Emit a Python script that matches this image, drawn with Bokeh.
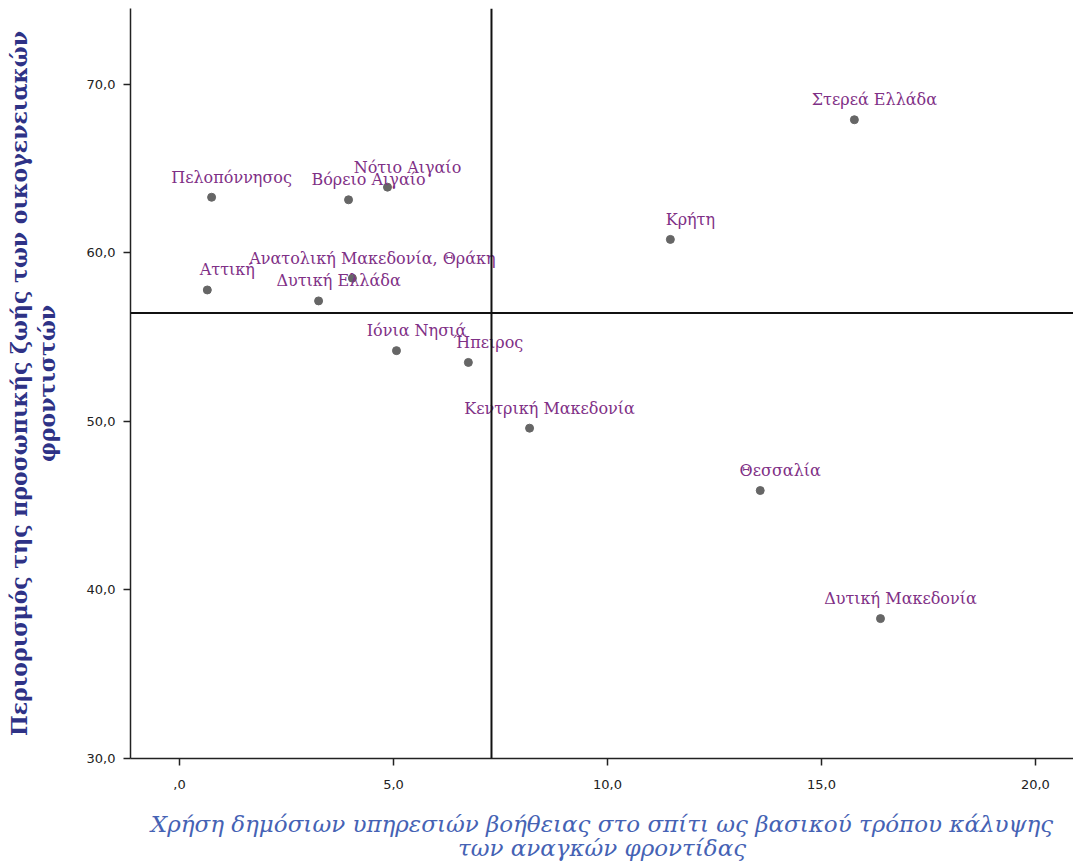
from bokeh.plotting import figure
from bokeh.models import ColumnDataSource, Span, Range1d, FixedTicker, CustomJSTickFormatter
from bokeh.core.properties import value
from bokeh.embed import file_html
from bokeh.resources import INLINE

regions = ["Αττική", "Πελοπόννησος", "Βόρειο Αιγαίο", "Νότιο Αιγαίο",
           "Ανατολική Μακεδονία, Θράκη", "Δυτική Ελλάδα", "Ιόνια Νησιά", "Ήπειρος",
           "Κεντρική Μακεδονία", "Κρήτη", "Στερεά Ελλάδα", "Θεσσαλία", "Δυτική Μακεδονία"]
public_help = [0.65, 0.75, 3.95, 4.86, 4.04, 3.25, 5.07, 6.75, 8.18, 11.47, 15.77, 13.57, 16.38]
restriction = [57.8, 63.3, 63.15, 63.9, 58.5, 57.15, 54.2, 53.5, 49.6, 60.8, 67.9, 45.9, 38.3]
x_ref = 7.29
y_ref = 56.44
x_ticks = [0, 5, 10, 15, 20]
y_ticks = [30, 40, 50, 60, 70]

x_title = "Χρήση δημόσιων υπηρεσιών βοήθειας στο σπίτι ως βασικού τρόπου κάλυψης\nτων αναγκών φροντίδας"
y_title = "Περιορισμός της προσωπικής ζωής των οικογενειακών\nφροντιστών"

src = ColumnDataSource(dict(x=public_help, y=restriction, name=regions))

p = figure(frame_width=943, frame_height=750, output_backend="svg", toolbar_location=None,
           x_range=Range1d(-1.145, 20.89), y_range=Range1d(30, 74.5),
           min_border_left=130, min_border_right=0, min_border_top=8, min_border_bottom=20)
p.outline_line_color = None
p.grid.visible = False

fmt = CustomJSTickFormatter(code="""
if (tick == 0) { return ',0'; }
return tick.toFixed(1).replace('.', ',');
""")
for ax, ticks in ((p.xaxis, x_ticks), (p.yaxis, y_ticks)):
    ax.ticker = FixedTicker(ticks=ticks)
    ax.formatter = fmt
    ax.minor_tick_line_color = None
    ax.major_tick_in = 0
    ax.major_tick_out = 7
    ax.major_tick_line_width = 1.5
    ax.axis_line_width = 1.5
    ax.axis_line_color = "#222222"
    ax.major_tick_line_color = "#222222"
    ax.major_label_text_font = "DejaVu Sans"
    ax.major_label_text_font_size = "13px"
    ax.major_label_text_color = "#222222"

p.xaxis.axis_label = x_title
p.xaxis.axis_label_text_font = "DejaVu Serif"
p.xaxis.axis_label_text_font_style = "italic"
p.xaxis.axis_label_text_font_size = "23px"
p.xaxis.axis_label_text_line_height = 0.95
p.xaxis.axis_label_text_color = "#4562B4"
p.xaxis.axis_label_standoff = 19
p.xaxis.major_label_standoff = 14

p.yaxis.axis_label = y_title
p.yaxis.axis_label_text_font = "DejaVu Serif"
p.yaxis.axis_label_text_font_style = "bold"
p.yaxis.axis_label_text_font_size = "22px"
p.yaxis.axis_label_text_line_height = 1.05
p.yaxis.axis_label_text_color = "#2E3286"
p.yaxis.axis_label_standoff = 24
p.yaxis.major_label_standoff = 8

p.add_layout(Span(location=x_ref, dimension="height", line_color="#111111", line_width=2))
p.add_layout(Span(location=y_ref, dimension="width", line_color="#111111", line_width=2))

p.scatter("x", "y", source=src, size=8, fill_color="#666666", line_color="#666666")
p.text("x", "y", text="name", source=src, x_offset=20, y_offset=-20,
       text_align="center", text_baseline="alphabetic",
       text_font=value("DejaVu Serif"), text_font_size="16px", text_color="#7F3086")

open("out.html", "w").write(file_html(p, INLINE))
